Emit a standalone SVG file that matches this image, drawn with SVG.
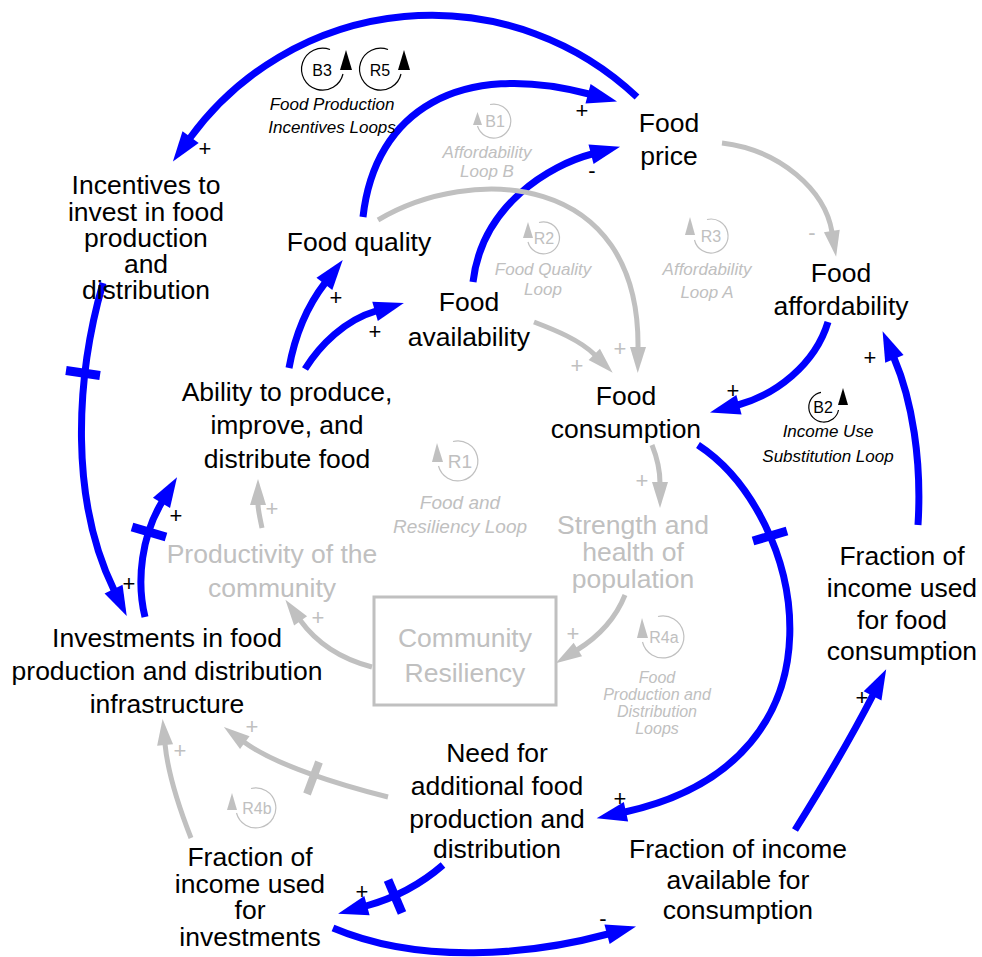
<svg xmlns="http://www.w3.org/2000/svg" width="982" height="957" viewBox="0 0 982 957">
<defs>
<style>
.n{font-family:"Liberation Sans",Arial,sans-serif;font-size:26.5px;fill:#000;text-anchor:middle}
.pol{font-family:"Liberation Sans",Arial,sans-serif;font-size:22px;fill:#000;text-anchor:middle}
.lp{font-family:"Liberation Sans",Arial,sans-serif;font-size:17px;font-style:italic;fill:#000;text-anchor:middle}
.lid{font-family:"Liberation Sans",Arial,sans-serif;font-size:16px;fill:#000;text-anchor:middle}
.b{fill:none;stroke:#0000ff;stroke-width:7}
.gr{fill:none;stroke:#c0c0c0;stroke-width:5}
.bd{stroke:#0000ff;stroke-width:9}
.gd{stroke:#c0c0c0;stroke-width:8}
.ring{fill:none;stroke:#000;stroke-width:1.2}
.gring{fill:none;stroke:#c0c0c0;stroke-width:1.2}
.g{fill:#c0c0c0}
</style>
<marker id="ab" markerUnits="userSpaceOnUse" markerWidth="32" markerHeight="22" refX="1" refY="10" orient="auto" overflow="visible">
<path d="M0,0 L30,10 L0,20 z" fill="#0000ff"/>
</marker>
<marker id="ag" markerUnits="userSpaceOnUse" markerWidth="28" markerHeight="18" refX="1" refY="8" orient="auto" overflow="visible">
<path d="M0,0 L26,8 L0,16 z" fill="#c0c0c0"/>
</marker>
</defs>
<rect width="982" height="957" fill="#fff"/>

<g id="connectors">
<!-- blue links -->
<path class="b" marker-end="url(#ab)" d="M637,97 A299,299 0 0 0 190,138"/>
<path class="b" marker-end="url(#ab)" d="M363,217 C375,110 460,60 589,94"/>
<path class="b" marker-end="url(#ab)" d="M473,282 C482,205 550,165 592,154"/>
<path class="b" marker-end="url(#ab)" d="M289,368 C295,335 308,305 325,283"/>
<path class="b" marker-end="url(#ab)" d="M305,369 C320,345 345,320 376,311"/>
<path class="b" marker-end="url(#ab)" d="M828,322 C815,365 775,395 738,405"/>
<path class="b" marker-end="url(#ab)" d="M918,525 C922,460 912,400 894,358"/>
<path class="b" marker-end="url(#ab)" d="M795,830 C820,790 850,740 873,695"/>
<path class="b" marker-end="url(#ab)" d="M698,445 C805,515 860,760 625,812"/>
<path class="b" marker-end="url(#ab)" d="M443,865 C420,885 395,898 366,906"/>
<path class="b" marker-end="url(#ab)" d="M333,928 C420,965 530,955 608,934"/>
<path class="b" marker-end="url(#ab)" d="M103,283 C75,380 70,500 114,590"/>
<path class="b" marker-end="url(#ab)" d="M145,617 C136,580 142,535 162,502"/>
<!-- delay marks -->
<line class="bd" x1="66" y1="370.5" x2="100" y2="375.5"/>
<line class="bd" x1="132" y1="527" x2="166" y2="537"/>
<line class="bd" x1="753" y1="541" x2="787" y2="531"/>
<line class="bd" x1="388" y1="880" x2="402" y2="913"/>
<!-- gray links -->
<path class="gr" marker-end="url(#ag)" d="M378,220 C470,165 640,170 638,348"/>
<path class="gr" marker-end="url(#ag)" d="M534,322 C555,330 580,340 595,355"/>
<path class="gr" marker-end="url(#ag)" d="M722,143 C780,150 825,190 832,232"/>
<path class="gr" marker-end="url(#ag)" d="M652,445 C658,460 660,470 660,483"/>
<path class="gr" marker-end="url(#ag)" d="M625,595 C615,620 598,637 577,650"/>
<path class="gr" marker-end="url(#ag)" d="M372,667 C345,660 318,645 300,620"/>
<path class="gr" marker-end="url(#ag)" d="M262,528 C260,518 258,510 258,504"/>
<path class="gr" marker-end="url(#ag)" d="M388,797 C340,785 275,765 244,742"/>
<path class="gr" marker-end="url(#ag)" d="M191,838 C180,810 168,775 165,744"/>
<line class="gd" x1="307" y1="794" x2="319" y2="762"/>
<!-- polarity signs -->
<text class="pol" x="205" y="156">+</text>
<text class="pol" x="582" y="118">+</text>
<text class="pol" x="592" y="178">-</text>
<text class="pol" x="336" y="305">+</text>
<text class="pol" x="375" y="339">+</text>
<text class="pol" x="733" y="398">+</text>
<text class="pol" x="870" y="365">+</text>
<text class="pol" x="862" y="705">+</text>
<text class="pol" x="620" y="806">+</text>
<text class="pol" x="362" y="899">+</text>
<text class="pol" x="603" y="926">-</text>
<text class="pol" x="129" y="591">+</text>
<text class="pol" x="176" y="523">+</text>
<text class="pol g" x="620" y="356">+</text>
<text class="pol g" x="577" y="373">+</text>
<text class="pol g" x="812" y="240">-</text>
<text class="pol g" x="642" y="488">+</text>
<text class="pol g" x="573" y="641">+</text>
<text class="pol g" x="318" y="625">+</text>
<text class="pol g" x="272" y="516">+</text>
<text class="pol g" x="252" y="734">+</text>
<text class="pol g" x="180" y="758">+</text>
</g>

<!-- variables -->
<g id="food-price"><text class="n" x="669" y="132">Food</text><text class="n" x="669" y="165">price</text></g>
<g id="food-affordability"><text class="n" x="841" y="282">Food</text><text class="n" x="841" y="315">affordability</text></g>
<g id="incentives"><text class="n" x="146" y="194">Incentives to</text><text class="n" x="146" y="221">invest in food</text><text class="n" x="146" y="247">production</text><text class="n" x="146" y="273">and</text><text class="n" x="146" y="299">distribution</text></g>
<g id="food-quality"><text class="n" x="359" y="251">Food quality</text></g>
<g id="food-availability"><text class="n" x="469" y="311">Food</text><text class="n" x="469" y="346">availability</text></g>
<g id="food-consumption"><text class="n" x="626" y="405">Food</text><text class="n" x="626" y="438">consumption</text></g>
<g id="ability"><text class="n" x="287" y="401">Ability to produce,</text><text class="n" x="287" y="434">improve, and</text><text class="n" x="287" y="468">distribute food</text></g>
<g id="productivity"><text class="n g" x="272" y="563">Productivity of the</text><text class="n g" x="272" y="597">community</text></g>
<g id="strength"><text class="n g" x="633" y="534">Strength and</text><text class="n g" x="633" y="561">health of</text><text class="n g" x="633" y="588">population</text></g>
<g id="community-resiliency"><rect x="374" y="597" width="182" height="108" fill="none" stroke="#c0c0c0" stroke-width="3"/><text class="n g" x="465" y="647">Community</text><text class="n g" x="465" y="682">Resiliency</text></g>
<g id="investments"><text class="n" x="167" y="647">Investments in food</text><text class="n" x="167" y="680">production and distribution</text><text class="n" x="167" y="713">infrastructure</text></g>
<g id="need"><text class="n" x="497" y="762">Need for</text><text class="n" x="497" y="795">additional food</text><text class="n" x="497" y="828">production and</text><text class="n" x="497" y="858">distribution</text></g>
<g id="fraction-investments"><text class="n" x="250" y="866">Fraction of</text><text class="n" x="250" y="893">income used</text><text class="n" x="250" y="919">for</text><text class="n" x="250" y="946">investments</text></g>
<g id="fraction-available"><text class="n" x="738" y="858">Fraction of income</text><text class="n" x="738" y="889">available for</text><text class="n" x="738" y="919">consumption</text></g>
<g id="fraction-food"><text class="n" x="902" y="565">Fraction of</text><text class="n" x="902" y="597">income used</text><text class="n" x="902" y="629">for food</text><text class="n" x="902" y="660">consumption</text></g>

<!-- loop identifiers -->
<g id="loop-b3-r5">
<path class="ring" d="M330,49.5 A21,21 0 1 0 343,74"/>
<polygon points="340,70 352,70 346,50" fill="#000"/>
<text class="lid" x="322" y="76">B3</text>
<path class="ring" d="M388,49.5 A21,21 0 1 0 401,74"/>
<polygon points="398,70 410,70 404,50" fill="#000"/>
<text class="lid" x="380" y="76">R5</text>
<text class="lp" x="332" y="110">Food Production</text>
<text class="lp" x="332" y="133">Incentives Loops</text>
</g>
<g id="loop-b1">
<path class="gring" d="M490,104.5 A17,17 0 1 1 477.5,126"/>
<polygon points="473,125 482,125 477.5,112" fill="#c0c0c0"/>
<text class="lid g" x="495" y="127">B1</text>
<text class="lp g" x="487" y="158">Affordability</text>
<text class="lp g" x="487" y="177">Loop B</text>
</g>
<g id="loop-r2">
<path class="gring" d="M539,222.5 A16,16 0 1 1 528,242"/>
<polygon points="523,238 533,238 528,222" fill="#c0c0c0"/>
<text class="lid g" x="544" y="244">R2</text>
<text class="lp g" x="543" y="275">Food Quality</text>
<text class="lp g" x="543" y="295">Loop</text>
</g>
<g id="loop-r3">
<path class="gring" d="M707,219.5 A17,17 0 1 1 694.5,240"/>
<polygon points="685,235 695,235 690,217" fill="#c0c0c0"/>
<text class="lid g" x="711" y="242">R3</text>
<text class="lp g" x="707" y="275">Affordability</text>
<text class="lp g" x="707" y="298">Loop A</text>
</g>
<g id="loop-r1">
<path class="gring" d="M453,441.5 A20,20 0 1 1 438.5,466"/>
<polygon points="432,462 443,462 437,443" fill="#c0c0c0"/>
<text class="lid g" x="460" y="468" style="font-size:19px">R1</text>
<text class="lp g" x="460" y="509" style="font-size:19px">Food and</text>
<text class="lp g" x="460" y="533" style="font-size:19px">Resiliency Loop</text>
</g>
<g id="loop-r4a">
<path class="gring" d="M658,616.5 A21,21 0 1 1 642.5,642"/>
<polygon points="637,638 648,638 642,618" fill="#c0c0c0"/>
<text class="lid g" x="664" y="643">R4a</text>
<text class="lp g" x="657" y="683" style="font-size:16px">Food</text>
<text class="lp g" x="657" y="700" style="font-size:16px">Production and</text>
<text class="lp g" x="657" y="717" style="font-size:16px">Distribution</text>
<text class="lp g" x="657" y="734" style="font-size:16px">Loops</text>
</g>
<g id="loop-r4b">
<path class="gring" d="M251,788.5 A20,20 0 1 1 236.5,813"/>
<polygon points="227,810 237,810 232,793" fill="#c0c0c0"/>
<text class="lid g" x="257" y="814">R4b</text>
</g>
<g id="loop-b2">
<path class="ring" d="M821,392.3 A15,15 0 1 0 838.5,410"/>
<polygon points="838,405 848,405 843,388" fill="#000"/>
<text class="lid" x="823" y="413">B2</text>
<text class="lp" x="828" y="437">Income Use</text>
<text class="lp" x="828" y="462">Substitution Loop</text>
</g>
</svg>
